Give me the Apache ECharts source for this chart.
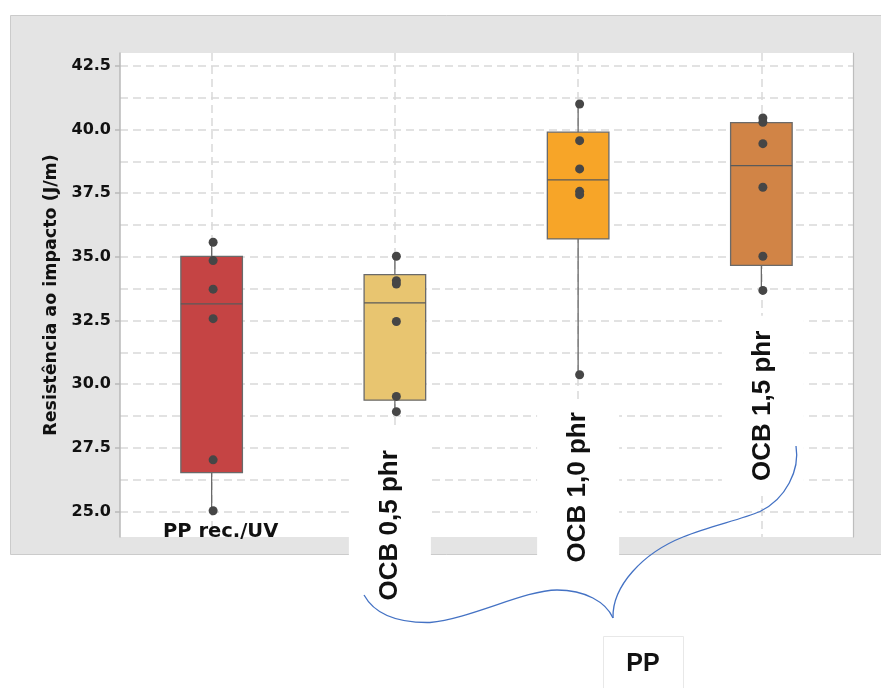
<!DOCTYPE html>
<html><head><meta charset="utf-8">
<script src="https://cdn.jsdelivr.net/npm/echarts@6/dist/echarts.min.js"></script>
<style>html,body{margin:0;padding:0;background:#fff;}#c{width:881px;height:688px;}</style>
</head><body><div id="c"></div>
<script>
// ---- data ----
const categories = ['PP rec./UV', 'OCB 0,5 phr', 'OCB 1,0 phr', 'OCB 1,5 phr'];
const pointsPPrec = [35.57, 34.85, 33.73, 32.57, 27.03, 25.03];
const pointsOCB05 = [35.02, 34.06, 33.93, 32.46, 29.52, 28.92];
const pointsOCB10 = [41.0, 39.56, 38.45, 37.57, 37.44, 30.37];
const pointsOCB15 = [40.45, 40.28, 39.44, 37.73, 35.02, 33.68];
// [min, Q1, median, Q3, max]
const boxPPrec = [25.03, 26.53, 33.15, 35.02, 35.57];
const boxOCB05 = [28.92, 29.37, 33.19, 34.30, 35.02];
const boxOCB10 = [30.37, 35.70, 38.02, 39.89, 41.0];
const boxOCB15 = [33.68, 34.66, 38.58, 40.27, 40.45];
const yTickValues = [25, 27.5, 30, 32.5, 35, 37.5, 40, 42.5];
const yTickLabels = ['25.0', '27.5', '30.0', '32.5', '35.0', '37.5', '40.0', '42.5'];
const yGridValues = [25, 26.25, 27.5, 28.75, 30, 31.25, 32.5, 33.75, 35, 36.25, 37.5, 38.75, 40, 41.25, 42.5];
const yAxisTitle = 'Resistência ao impacto (J/m)';
const groupTitle = 'PP';

// ---- styles ----
const boxColors = ['#C54444', '#E8C570', '#F7A528', '#D18446'];
const gridDash = { color: '#d9d9d9', width: 1.5, type: [8, 5] };
const boldFont = 'DejaVu Sans';

const allPoints = [pointsPPrec, pointsOCB05, pointsOCB10, pointsOCB15];
const allBoxes = [boxPPrec, boxOCB05, boxOCB10, boxOCB15];
const scatterData = [];
allPoints.forEach((arr, i) => arr.forEach(v => scatterData.push([i, v])));
const boxData = allBoxes.map((b, i) => [i].concat(b));

function renderBox(params, api) {
  const i = api.value(0);
  const mn = api.coord([i, api.value(1)]);
  const q1 = api.coord([i, api.value(2)]);
  const md = api.coord([i, api.value(3)]);
  const q3 = api.coord([i, api.value(4)]);
  const mx = api.coord([i, api.value(5)]);
  const w = api.size([1, 0])[0] * 0.336;
  const x = q1[0];
  const ls = { stroke: '#6a6a6a', lineWidth: 1.3 };
  return {
    type: 'group', children: [
      { type: 'line', shape: { x1: x, y1: mn[1], x2: x, y2: q1[1] }, style: ls },
      { type: 'line', shape: { x1: x, y1: q3[1], x2: x, y2: mx[1] }, style: ls },
      { type: 'rect', shape: { x: x - w / 2, y: q3[1], width: w, height: q1[1] - q3[1] },
        style: { fill: boxColors[i], stroke: '#6a6a6a', lineWidth: 1.3 } },
      { type: 'line', shape: { x1: x - w / 2, y1: md[1], x2: x + w / 2, y2: md[1] },
        style: { stroke: '#5a5a5a', lineWidth: 1.3 } }
    ]
  };
}

const chart = echarts.init(document.getElementById('c'), null, { renderer: 'canvas' });
chart.setOption({
  animation: false,
  backgroundColor: '#ffffff',
  grid: { left: 120, top: 53, right: 28, bottom: 151, show: true, backgroundColor: '#ffffff',
          borderWidth: 0, containLabel: false, outerBoundsMode: 'none' },
  xAxis: [
    { type: 'category', data: categories, boundaryGap: true,
      axisLine: { show: false, onZero: false }, axisTick: { show: false }, axisLabel: { show: false },
      splitLine: { show: false } },
    { type: 'value', min: -0.5, max: 3.5, position: 'bottom',
      axisLine: { show: false, onZero: false }, axisLabel: { show: false },
      axisTick: { show: false, customValues: [0, 1, 2, 3] },
      splitLine: { show: true, lineStyle: gridDash } }
  ],
  yAxis: [
    { type: 'value', min: 24, max: 43, position: 'left',
      name: yAxisTitle, nameLocation: 'middle', nameRotate: 90, nameGap: 58,
      nameTextStyle: { fontFamily: boldFont, fontWeight: 'bold', fontSize: 17.5, color: '#111' },
      axisLine: { show: true, onZero: false, lineStyle: { color: '#b8b8b8', width: 1.5 } },
      axisTick: { show: true, length: 5, customValues: yTickValues, lineStyle: { color: '#b8b8b8', width: 1.5 } },
      axisLabel: { show: true, customValues: yTickValues, margin: 9,
        formatter: v => yTickLabels[yTickValues.indexOf(v)] ?? v.toFixed(1),
        fontFamily: boldFont, fontWeight: 'bold', fontSize: 16, color: '#111' },
      splitLine: { show: false } },
    { type: 'value', min: 24, max: 43, position: 'right',
      axisLine: { show: true, onZero: false, lineStyle: { color: '#bdbdbd', width: 1.2 } },
      axisLabel: { show: false },
      axisTick: { show: false, customValues: yGridValues },
      splitLine: { show: true, lineStyle: gridDash } }
  ],
  series: [
    { type: 'custom', xAxisIndex: 0, yAxisIndex: 0, renderItem: renderBox, data: boxData,
      encode: { x: 0, y: [1, 2, 3, 4, 5] }, z: 2 },
    { type: 'scatter', xAxisIndex: 0, yAxisIndex: 0, data: scatterData, symbolSize: 9,
      symbolOffset: [1.5, 0],
      itemStyle: { color: '#464646', opacity: 1 }, z: 3 }
  ]
});

// ---- annotations placed via the axes' own scales ----
const P = (c, v) => chart.convertToPixel({ xAxisIndex: 0, yAxisIndex: 0 }, [c, v]);
const graphics = [];
graphics.push({ id: 'panel', type: 'rect', z: -20, silent: true,
  shape: { x: 10.5, y: 15.5, width: 900, height: 539 },
  style: { fill: '#e4e4e4', stroke: '#cbcbcb', lineWidth: 1 } });

// horizontal category label
const p0 = P(0, 24.2);
graphics.push({ id: 'lab0', type: 'text', z: 20, x: p0[0] + 9, y: p0[1],
  style: { text: categories[0], font: 'bold 19.5px "DejaVu Sans"', fill: '#111',
           align: 'center', verticalAlign: 'middle' } });
// rotated labels with white boxes
const rotLabels = [
  { c: 1, v: 24.46, dx: -5, pad: 21 },
  { c: 2, v: 25.95, dx: 0, pad: 11 },
  { c: 3, v: 29.15, dx: 1.5, pad: 15 }
];
rotLabels.forEach((r, k) => {
  const p = P(r.c, r.v);
  graphics.push({ id: 'lab' + (k + 1), type: 'text', z: 20, x: p[0] + r.dx, y: p[1],
    rotation: Math.PI / 2,
    style: { text: categories[r.c], font: 'bold 26px "Liberation Sans"', fill: '#111',
             align: 'center', verticalAlign: 'middle', backgroundColor: '#ffffff',
             padding: [28, r.pad, 28, r.pad] } });
});

// curly brace
const brace = [
  [364, 595, 375, 615, 400, 623, 430, 622.5],
  [430, 622.5, 470, 619, 525, 590, 557, 590],
  [557, 590, 585, 590, 606, 602, 613, 618],
  [613, 618, 612, 586, 643, 553, 683, 537],
  [683, 537, 710, 526, 740, 520, 760, 511.5],
  [760, 511.5, 786, 499, 800, 470, 796, 446]
];
brace.forEach((b, k) => graphics.push({ id: 'br' + k, type: 'bezierCurve', z: 30, silent: true,
  shape: { x1: b[0], y1: b[1], cpx1: b[2], cpy1: b[3], cpx2: b[4], cpy2: b[5], x2: b[6], y2: b[7] },
  style: { stroke: '#4472C4', lineWidth: 1.3, fill: 'none' } }));

// group box
graphics.push({ id: 'ppbox', type: 'rect', z: 20, silent: true,
  shape: { x: 603.5, y: 636.5, width: 80, height: 80 },
  style: { fill: '#ffffff', stroke: '#e8e8e8', lineWidth: 1 } });
graphics.push({ id: 'pptext', type: 'text', z: 21, x: 643, y: 664,
  style: { text: groupTitle, font: 'bold 25px "Liberation Sans"', fill: '#111',
           align: 'center', verticalAlign: 'middle' } });

chart.setOption({ graphic: { elements: graphics } });
</script></body></html>
